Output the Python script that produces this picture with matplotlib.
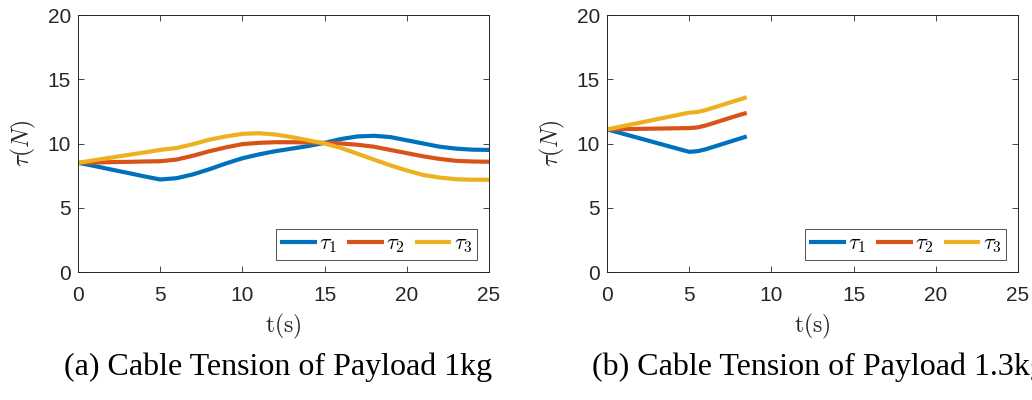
import numpy as np
import matplotlib.pyplot as plt

plt.rcParams['mathtext.fontset'] = 'cm'
plt.rcParams['font.family'] = ['Liberation Sans', 'DejaVu Sans']

# payload 1kg
t_a = [0, 1, 2, 3, 4, 5, 6, 7, 8, 9, 10, 11, 12, 13, 14, 15, 16, 17, 18, 19, 20, 21, 22, 23, 24, 25]
tau1_a = [8.5, 8.25, 7.98, 7.72, 7.45, 7.2, 7.3, 7.6, 8.0, 8.45, 8.85, 9.15, 9.4, 9.6, 9.8, 10.05,
          10.35, 10.55, 10.6, 10.5, 10.25, 10.0, 9.75, 9.6, 9.52, 9.5]
tau2_a = [8.5, 8.52, 8.55, 8.57, 8.6, 8.62, 8.75, 9.05, 9.4, 9.7, 9.95, 10.05, 10.1, 10.1, 10.08, 10.05,
          10.0, 9.9, 9.75, 9.5, 9.25, 9.0, 8.8, 8.65, 8.6, 8.58]
tau3_a = [8.5, 8.7, 8.9, 9.1, 9.3, 9.5, 9.65, 9.95, 10.3, 10.55, 10.75, 10.8, 10.7, 10.5, 10.25, 10.0,
          9.65, 9.2, 8.75, 8.3, 7.9, 7.55, 7.35, 7.22, 7.18, 7.18]

# payload 1.3kg
t_b = [0, 1, 2, 3, 4, 5, 5.5, 6, 6.5, 7, 7.5, 8, 8.5]
tau1_b = [11.1, 10.75, 10.4, 10.05, 9.7, 9.35, 9.4, 9.55, 9.75, 9.95, 10.15, 10.35, 10.55]
tau2_b = [11.1, 11.12, 11.14, 11.16, 11.18, 11.2, 11.25, 11.4, 11.6, 11.8, 12.0, 12.2, 12.38]
tau3_b = [11.1, 11.36, 11.62, 11.88, 12.14, 12.4, 12.45, 12.6, 12.8, 13.0, 13.2, 13.4, 13.6]

colors = ['#0072BD', '#D95319', '#EDB120']
labels = [r'$\tau_1$', r'$\tau_2$', r'$\tau_3$']

fig = plt.figure(figsize=(10.32, 4), dpi=100)
ax1 = fig.add_axes([78 / 1032, 1 - 272 / 400, 411 / 1032, 257 / 400])
ax2 = fig.add_axes([607 / 1032, 1 - 272 / 400, 411 / 1032, 257 / 400])

for ax, t, series in [(ax1, t_a, [tau1_a, tau2_a, tau3_a]),
                      (ax2, t_b, [tau1_b, tau2_b, tau3_b])]:
    for y, c, lab in zip(series, colors, labels):
        ax.plot(t, y, color=c, lw=3, label=lab, solid_capstyle='butt')
    ax.set_xlim(0, 25)
    ax.set_ylim(0, 20)
    ax.set_xticks([0, 5, 10, 15, 20, 25])
    ax.set_yticks([0, 5, 10, 15, 20])
    ax.tick_params(direction='in', top=True, right=True, labelsize=15,
                   colors='#262626', length=4, width=0.6)
    ax.tick_params(axis='x', pad=10)
    ax.tick_params(axis='y', pad=5)
    for s in ax.spines.values():
        s.set_color('#262626')
        s.set_linewidth(0.7)
    ax.set_xlabel(r'$\mathrm{t(s)}$', fontsize=17, color='#262626', labelpad=5)
    ax.set_ylabel(r'$\tau(N)$', fontsize=17, color='#262626', labelpad=7)
    leg = ax.legend(loc='lower right', ncol=3, fontsize=16, frameon=True, fancybox=False,
                    edgecolor='#262626', handlelength=1.65, handletextpad=0.1,
                    columnspacing=0.45, borderpad=0.2, borderaxespad=0.55)
    leg.get_frame().set_linewidth(0.7)

fig.text(278 / 1032, 1 - 367 / 400, '(a) Cable Tension of Payload 1kg', ha='center', va='center',
         fontsize=23, family='Liberation Serif')
fig.text(592 / 1032, 1 - 367 / 400, '(b) Cable Tension of Payload 1.3kg', ha='left', va='center',
         fontsize=23, family='Liberation Serif')

fig.savefig('out.png', dpi=100)
